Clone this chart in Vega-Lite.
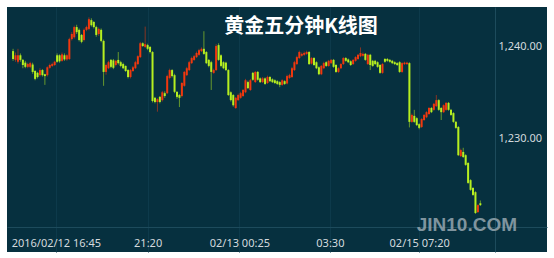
{
  "$schema": "https://vega.github.io/schema/vega-lite/v6.json",
  "width": 540,
  "height": 245,
  "autosize": {"type": "none"},
  "padding": {"left": 7, "top": 7, "right": 7, "bottom": 6},
  "background": "#ffffff",
  "config": {
    "view": {"fill": "#06303f", "stroke": null},
    "axis": {"labelFont": "Noto Sans", "labelFontSize": 11, "labelColor": "#d3dade", "ticks": false, "domainColor": "#1d4b5c", "titleColor": "#cdd5da"}
  },
  "title": {"text": "黄金五分钟K线图", "anchor": "middle", "frame": "group", "dx": 24, "offset": -30, "font": "Noto Sans CJK SC", "fontSize": 20, "fontWeight": "bold", "color": "#ffffff"},
  "datasets": {
    "candles": [
      {"i":0,"o":1239.45,"h":1239.7,"l":1238.4,"c":1238.6},
      {"i":1,"o":1238.5,"h":1239.3,"l":1238.3,"c":1239.0},
      {"i":2,"o":1238.3,"h":1239.7,"l":1238.1,"c":1239.0},
      {"i":3,"o":1239.0,"h":1239.2,"l":1238.3,"c":1238.5},
      {"i":4,"o":1238.5,"h":1238.6,"l":1237.6,"c":1237.95},
      {"i":5,"o":1238.2,"h":1238.4,"l":1237.6,"c":1237.75},
      {"i":6,"o":1237.75,"h":1238.2,"l":1237.6,"c":1238.05},
      {"i":7,"o":1237.75,"h":1238.3,"l":1237.6,"c":1238.15},
      {"i":8,"o":1238.0,"h":1238.2,"l":1237.0,"c":1237.2},
      {"i":9,"o":1237.3,"h":1237.4,"l":1236.3,"c":1236.45},
      {"i":10,"o":1237.1,"h":1237.2,"l":1236.5,"c":1236.65},
      {"i":11,"o":1236.85,"h":1237.6,"l":1236.7,"c":1237.4},
      {"i":12,"o":1237.4,"h":1237.5,"l":1236.7,"c":1236.85},
      {"i":13,"o":1236.95,"h":1237.0,"l":1235.8,"c":1236.75},
      {"i":14,"o":1236.85,"h":1237.8,"l":1236.7,"c":1237.7},
      {"i":15,"o":1237.65,"h":1238.1,"l":1237.55,"c":1237.95},
      {"i":16,"o":1237.85,"h":1238.2,"l":1237.75,"c":1238.05},
      {"i":17,"o":1237.95,"h":1238.4,"l":1237.85,"c":1238.3},
      {"i":18,"o":1239.0,"h":1239.2,"l":1238.2,"c":1238.3},
      {"i":19,"o":1239.0,"h":1239.1,"l":1238.2,"c":1238.35},
      {"i":20,"o":1238.4,"h":1239.3,"l":1238.3,"c":1239.1},
      {"i":21,"o":1239.0,"h":1239.2,"l":1238.4,"c":1238.55},
      {"i":22,"o":1238.55,"h":1239.1,"l":1238.4,"c":1239.0},
      {"i":23,"o":1238.6,"h":1240.9,"l":1238.5,"c":1240.75},
      {"i":24,"o":1240.75,"h":1241.5,"l":1240.6,"c":1241.3},
      {"i":25,"o":1240.95,"h":1242.2,"l":1240.8,"c":1242.05},
      {"i":26,"o":1242.05,"h":1242.3,"l":1241.3,"c":1241.5},
      {"i":27,"o":1241.75,"h":1241.9,"l":1240.5,"c":1240.65},
      {"i":28,"o":1241.2,"h":1241.3,"l":1240.3,"c":1240.45},
      {"i":29,"o":1240.65,"h":1241.9,"l":1240.5,"c":1241.75},
      {"i":30,"o":1241.75,"h":1242.2,"l":1241.6,"c":1242.05},
      {"i":31,"o":1241.85,"h":1243.1,"l":1241.7,"c":1242.9},
      {"i":32,"o":1242.8,"h":1243.0,"l":1242.1,"c":1242.25},
      {"i":33,"o":1242.6,"h":1242.7,"l":1241.9,"c":1242.05},
      {"i":34,"o":1242.05,"h":1242.2,"l":1241.0,"c":1241.2},
      {"i":35,"o":1241.3,"h":1242.0,"l":1241.1,"c":1241.85},
      {"i":36,"o":1241.75,"h":1241.9,"l":1240.4,"c":1240.55},
      {"i":37,"o":1240.55,"h":1240.7,"l":1235.7,"c":1237.2},
      {"i":38,"o":1237.2,"h":1238.1,"l":1236.9,"c":1237.95},
      {"i":39,"o":1237.6,"h":1238.4,"l":1237.5,"c":1238.25},
      {"i":40,"o":1238.5,"h":1238.6,"l":1237.6,"c":1237.75},
      {"i":41,"o":1238.45,"h":1238.6,"l":1237.5,"c":1237.65},
      {"i":42,"o":1237.95,"h":1238.5,"l":1237.8,"c":1238.4},
      {"i":43,"o":1238.5,"h":1239.35,"l":1238.0,"c":1238.15},
      {"i":44,"o":1238.25,"h":1238.4,"l":1237.7,"c":1237.85},
      {"i":45,"o":1238.05,"h":1238.2,"l":1237.5,"c":1237.6},
      {"i":46,"o":1237.85,"h":1237.9,"l":1237.2,"c":1237.3},
      {"i":47,"o":1237.4,"h":1237.5,"l":1236.5,"c":1236.65},
      {"i":48,"o":1236.65,"h":1237.5,"l":1236.5,"c":1237.4},
      {"i":49,"o":1237.3,"h":1237.85,"l":1237.2,"c":1237.7},
      {"i":50,"o":1237.6,"h":1238.4,"l":1237.5,"c":1238.25},
      {"i":51,"o":1238.05,"h":1239.0,"l":1237.95,"c":1238.9},
      {"i":52,"o":1238.8,"h":1240.45,"l":1238.7,"c":1240.3},
      {"i":53,"o":1240.3,"h":1240.4,"l":1239.9,"c":1240.0},
      {"i":54,"o":1239.9,"h":1242.1,"l":1239.8,"c":1240.2},
      {"i":55,"o":1240.1,"h":1240.25,"l":1239.55,"c":1239.7},
      {"i":56,"o":1239.9,"h":1240.0,"l":1239.2,"c":1239.35},
      {"i":57,"o":1239.35,"h":1239.45,"l":1233.9,"c":1234.05},
      {"i":58,"o":1234.4,"h":1234.5,"l":1233.8,"c":1233.95},
      {"i":59,"o":1233.95,"h":1234.35,"l":1232.9,"c":1234.25},
      {"i":60,"o":1234.5,"h":1234.6,"l":1233.8,"c":1233.95},
      {"i":61,"o":1234.15,"h":1235.15,"l":1234.0,"c":1235.0},
      {"i":62,"o":1234.9,"h":1235.1,"l":1234.4,"c":1234.6},
      {"i":63,"o":1234.9,"h":1236.9,"l":1234.8,"c":1236.75},
      {"i":64,"o":1236.55,"h":1237.55,"l":1236.4,"c":1237.4},
      {"i":65,"o":1237.4,"h":1237.5,"l":1236.6,"c":1236.75},
      {"i":66,"o":1236.85,"h":1237.0,"l":1234.9,"c":1235.05},
      {"i":67,"o":1235.05,"h":1235.1,"l":1234.3,"c":1234.5},
      {"i":68,"o":1234.7,"h":1234.8,"l":1233.4,"c":1234.4},
      {"i":69,"o":1234.6,"h":1236.1,"l":1234.45,"c":1236.0},
      {"i":70,"o":1235.7,"h":1237.3,"l":1235.6,"c":1237.2},
      {"i":71,"o":1236.85,"h":1237.75,"l":1236.75,"c":1237.6},
      {"i":72,"o":1237.4,"h":1238.4,"l":1237.3,"c":1238.25},
      {"i":73,"o":1238.15,"h":1238.85,"l":1238.05,"c":1238.7},
      {"i":74,"o":1238.5,"h":1239.05,"l":1238.4,"c":1238.9},
      {"i":75,"o":1238.8,"h":1239.4,"l":1238.7,"c":1239.25},
      {"i":76,"o":1239.05,"h":1239.7,"l":1238.95,"c":1239.55},
      {"i":77,"o":1239.45,"h":1239.85,"l":1239.35,"c":1239.7},
      {"i":78,"o":1239.7,"h":1241.6,"l":1239.05,"c":1239.15},
      {"i":79,"o":1239.35,"h":1239.45,"l":1238.05,"c":1238.15},
      {"i":80,"o":1238.5,"h":1238.6,"l":1237.7,"c":1237.85},
      {"i":81,"o":1238.25,"h":1238.4,"l":1235.25,"c":1237.2},
      {"i":82,"o":1237.1,"h":1237.55,"l":1237.0,"c":1237.4},
      {"i":83,"o":1237.4,"h":1240.2,"l":1237.3,"c":1240.0},
      {"i":84,"o":1240.1,"h":1240.3,"l":1238.4,"c":1238.5},
      {"i":85,"o":1239.0,"h":1239.1,"l":1237.7,"c":1237.85},
      {"i":86,"o":1238.25,"h":1238.35,"l":1237.5,"c":1237.6},
      {"i":87,"o":1238.2,"h":1238.3,"l":1237.3,"c":1237.4},
      {"i":88,"o":1237.4,"h":1237.5,"l":1234.6,"c":1234.7},
      {"i":89,"o":1235.0,"h":1235.1,"l":1234.0,"c":1234.15},
      {"i":90,"o":1234.7,"h":1234.8,"l":1233.45,"c":1233.6},
      {"i":91,"o":1233.3,"h":1234.5,"l":1233.2,"c":1234.4},
      {"i":92,"o":1234.15,"h":1234.85,"l":1234.05,"c":1234.7},
      {"i":93,"o":1234.4,"h":1235.05,"l":1234.3,"c":1234.9},
      {"i":94,"o":1234.6,"h":1235.35,"l":1234.5,"c":1235.25},
      {"i":95,"o":1235.0,"h":1236.45,"l":1234.9,"c":1236.3},
      {"i":96,"o":1236.1,"h":1236.25,"l":1235.35,"c":1235.45},
      {"i":97,"o":1235.25,"h":1236.45,"l":1235.15,"c":1236.3},
      {"i":98,"o":1237.1,"h":1237.2,"l":1236.25,"c":1236.35},
      {"i":99,"o":1236.1,"h":1237.3,"l":1236.0,"c":1237.2},
      {"i":100,"o":1237.2,"h":1237.3,"l":1236.25,"c":1236.35},
      {"i":101,"o":1236.5,"h":1236.6,"l":1236.0,"c":1236.1},
      {"i":102,"o":1236.1,"h":1236.65,"l":1236.0,"c":1236.5},
      {"i":103,"o":1236.5,"h":1236.6,"l":1235.8,"c":1235.9},
      {"i":104,"o":1236.0,"h":1236.8,"l":1235.9,"c":1236.65},
      {"i":105,"o":1236.65,"h":1236.75,"l":1236.1,"c":1236.2},
      {"i":106,"o":1236.4,"h":1236.5,"l":1236.0,"c":1236.1},
      {"i":107,"o":1236.3,"h":1236.4,"l":1235.9,"c":1236.0},
      {"i":108,"o":1236.2,"h":1236.3,"l":1235.8,"c":1235.9},
      {"i":109,"o":1236.1,"h":1236.2,"l":1235.55,"c":1235.8},
      {"i":110,"o":1235.8,"h":1236.4,"l":1235.7,"c":1236.3},
      {"i":111,"o":1236.2,"h":1236.3,"l":1235.8,"c":1235.9},
      {"i":112,"o":1235.95,"h":1236.9,"l":1235.85,"c":1236.75},
      {"i":113,"o":1236.55,"h":1237.0,"l":1236.45,"c":1236.85},
      {"i":114,"o":1236.65,"h":1237.75,"l":1236.55,"c":1237.6},
      {"i":115,"o":1237.4,"h":1238.4,"l":1237.3,"c":1238.25},
      {"i":116,"o":1238.05,"h":1238.95,"l":1237.95,"c":1238.8},
      {"i":117,"o":1238.7,"h":1239.5,"l":1238.6,"c":1239.35},
      {"i":118,"o":1238.95,"h":1239.3,"l":1238.85,"c":1239.15},
      {"i":119,"o":1239.05,"h":1239.4,"l":1238.95,"c":1239.25},
      {"i":120,"o":1239.15,"h":1239.5,"l":1239.05,"c":1239.35},
      {"i":121,"o":1239.35,"h":1239.45,"l":1237.95,"c":1238.05},
      {"i":122,"o":1238.1,"h":1238.8,"l":1238.0,"c":1238.7},
      {"i":123,"o":1238.7,"h":1238.8,"l":1237.85,"c":1237.95},
      {"i":124,"o":1238.25,"h":1238.35,"l":1237.5,"c":1237.6},
      {"i":125,"o":1237.7,"h":1237.8,"l":1236.85,"c":1236.95},
      {"i":126,"o":1236.95,"h":1237.95,"l":1236.85,"c":1237.85},
      {"i":127,"o":1237.6,"h":1238.3,"l":1237.5,"c":1238.15},
      {"i":128,"o":1238.25,"h":1238.35,"l":1237.75,"c":1237.85},
      {"i":129,"o":1237.85,"h":1238.5,"l":1237.75,"c":1238.4},
      {"i":130,"o":1238.15,"h":1238.6,"l":1238.05,"c":1238.5},
      {"i":131,"o":1238.5,"h":1238.6,"l":1237.65,"c":1237.75},
      {"i":132,"o":1237.95,"h":1238.05,"l":1237.1,"c":1237.2},
      {"i":133,"o":1237.2,"h":1237.7,"l":1237.1,"c":1237.6},
      {"i":134,"o":1237.6,"h":1238.15,"l":1237.5,"c":1238.05},
      {"i":135,"o":1238.05,"h":1238.8,"l":1237.95,"c":1238.7},
      {"i":136,"o":1238.7,"h":1238.8,"l":1238.3,"c":1238.4},
      {"i":137,"o":1238.55,"h":1238.65,"l":1238.15,"c":1238.25},
      {"i":138,"o":1238.35,"h":1238.45,"l":1237.85,"c":1237.95},
      {"i":139,"o":1238.05,"h":1238.6,"l":1237.95,"c":1238.5},
      {"i":140,"o":1238.4,"h":1238.9,"l":1238.3,"c":1238.8},
      {"i":141,"o":1238.6,"h":1239.15,"l":1238.5,"c":1239.05},
      {"i":142,"o":1238.9,"h":1239.85,"l":1238.8,"c":1239.25},
      {"i":143,"o":1238.95,"h":1239.3,"l":1238.85,"c":1239.15},
      {"i":144,"o":1239.15,"h":1239.25,"l":1238.4,"c":1238.5},
      {"i":145,"o":1238.05,"h":1239.15,"l":1237.95,"c":1239.05},
      {"i":146,"o":1239.05,"h":1239.15,"l":1237.4,"c":1237.95},
      {"i":147,"o":1238.4,"h":1238.5,"l":1237.75,"c":1237.85},
      {"i":148,"o":1238.4,"h":1238.5,"l":1237.95,"c":1238.05},
      {"i":149,"o":1238.25,"h":1238.35,"l":1237.65,"c":1237.75},
      {"i":150,"o":1237.95,"h":1238.05,"l":1237.0,"c":1237.1},
      {"i":151,"o":1237.1,"h":1238.15,"l":1237.0,"c":1238.05},
      {"i":152,"o":1238.6,"h":1238.7,"l":1238.2,"c":1238.3},
      {"i":153,"o":1238.6,"h":1238.7,"l":1238.3,"c":1238.4},
      {"i":154,"o":1238.5,"h":1238.6,"l":1238.2,"c":1238.3},
      {"i":155,"o":1238.4,"h":1238.5,"l":1238.05,"c":1238.15},
      {"i":156,"o":1238.25,"h":1238.35,"l":1237.95,"c":1238.05},
      {"i":157,"o":1238.15,"h":1238.25,"l":1237.85,"c":1237.95},
      {"i":158,"o":1238.25,"h":1238.35,"l":1237.1,"c":1237.2},
      {"i":159,"o":1237.2,"h":1238.25,"l":1237.1,"c":1238.15},
      {"i":160,"o":1238.05,"h":1238.3,"l":1237.95,"c":1238.2},
      {"i":161,"o":1238.05,"h":1238.3,"l":1237.95,"c":1238.2},
      {"i":162,"o":1238.15,"h":1238.25,"l":1231.2,"c":1231.8},
      {"i":163,"o":1231.8,"h":1232.7,"l":1231.7,"c":1232.55},
      {"i":164,"o":1232.45,"h":1233.1,"l":1231.7,"c":1231.8},
      {"i":165,"o":1232.2,"h":1232.3,"l":1231.35,"c":1231.45},
      {"i":166,"o":1231.55,"h":1231.65,"l":1231.0,"c":1231.15},
      {"i":167,"o":1231.25,"h":1232.2,"l":1231.15,"c":1232.1},
      {"i":168,"o":1232.0,"h":1232.65,"l":1231.9,"c":1232.55},
      {"i":169,"o":1232.3,"h":1232.95,"l":1232.2,"c":1232.85},
      {"i":170,"o":1232.65,"h":1233.4,"l":1232.55,"c":1233.3},
      {"i":171,"o":1233.3,"h":1233.4,"l":1232.75,"c":1232.85},
      {"i":172,"o":1233.1,"h":1233.85,"l":1233.0,"c":1233.75},
      {"i":173,"o":1233.5,"h":1234.7,"l":1233.4,"c":1234.15},
      {"i":174,"o":1234.15,"h":1234.25,"l":1233.0,"c":1233.1},
      {"i":175,"o":1233.3,"h":1233.4,"l":1232.0,"c":1232.85},
      {"i":176,"o":1232.85,"h":1233.7,"l":1232.75,"c":1233.6},
      {"i":177,"o":1233.1,"h":1233.95,"l":1233.0,"c":1233.85},
      {"i":178,"o":1233.85,"h":1233.95,"l":1233.0,"c":1233.1},
      {"i":179,"o":1233.1,"h":1233.2,"l":1232.45,"c":1232.55},
      {"i":180,"o":1232.75,"h":1232.85,"l":1231.7,"c":1231.8},
      {"i":181,"o":1231.8,"h":1231.9,"l":1231.05,"c":1231.15},
      {"i":182,"o":1231.25,"h":1231.35,"l":1228.1,"c":1228.2},
      {"i":183,"o":1228.1,"h":1228.9,"l":1228.0,"c":1228.75},
      {"i":184,"o":1228.55,"h":1229.0,"l":1227.9,"c":1228.0},
      {"i":185,"o":1228.2,"h":1228.3,"l":1227.05,"c":1227.15},
      {"i":186,"o":1227.35,"h":1227.45,"l":1225.1,"c":1225.2},
      {"i":187,"o":1225.5,"h":1225.6,"l":1224.35,"c":1224.45},
      {"i":188,"o":1224.65,"h":1224.75,"l":1223.8,"c":1223.9},
      {"i":189,"o":1224.2,"h":1224.3,"l":1221.85,"c":1221.95},
      {"i":190,"o":1222.05,"h":1222.9,"l":1221.95,"c":1222.8},
      {"i":191,"o":1223.0,"h":1223.3,"l":1222.7,"c":1222.8}
    ],
    "mark": [{"label": "JIN10.COM"}]
  },
  "layer": [
    {
      "data": {"name": "candles"},
      "mark": {"type": "rule", "strokeWidth": 1, "opacity": 0.55},
      "encoding": {
        "x": {"field": "i", "type": "quantitative",
          "scale": {"domain": [-0.44, 216.2], "nice": false, "zero": false},
          "axis": {"title": null, "values": [17.5, 55, 92.5, 129.5, 166], "offset": -25, "grid": true, "gridColor": "#0d3a4b", "gridWidth": 1, "labelPadding": 10, "labelFlush": false, "labelOverlap": false,
            "labelExpr": "datum.value < 30 ? '2016/02/12 16:45' : datum.value < 70 ? '21:20' : datum.value < 110 ? '02/13 00:25' : datum.value < 150 ? '03:30' : '02/15 07:20'"}},
        "y": {"field": "l", "type": "quantitative",
          "scale": {"domain": [1217.73, 1244.22], "nice": false, "zero": false},
          "axis": {"title": null, "orient": "right", "values": [1230, 1240], "format": ",.2f", "offset": -52, "grid": false, "labelPadding": 3, "labelFlush": false, "labelOverlap": false}},
        "y2": {"field": "h"},
        "color": {"condition": {"test": "datum.c > datum.o", "value": "#f0380e"}, "value": "#b6ef20"}
      }
    },
    {
      "data": {"name": "candles"},
      "mark": {"type": "bar", "size": 2},
      "encoding": {
        "x": {"field": "i", "type": "quantitative", "scale": {"domain": [-0.44, 216.2], "nice": false, "zero": false}, "axis": {"title": null}},
        "y": {"field": "o", "type": "quantitative", "scale": {"domain": [1217.73, 1244.22], "nice": false, "zero": false}, "axis": {"title": null}},
        "y2": {"field": "c"},
        "color": {"condition": {"test": "datum.c > datum.o", "value": "#f0380e"}, "value": "#b6ef20"}
      }
    },
    {
      "data": {"name": "mark"},
      "mark": {"type": "text", "font": "Liberation Sans", "fontSize": 19, "fontWeight": "bold", "color": "#95a6af", "opacity": 0.85, "align": "center", "baseline": "middle"},
      "encoding": {
        "x": {"datum": 185.5, "type": "quantitative"},
        "y": {"datum": 1220.6, "type": "quantitative"},
        "text": {"field": "label"}
      }
    }
  ]
}
